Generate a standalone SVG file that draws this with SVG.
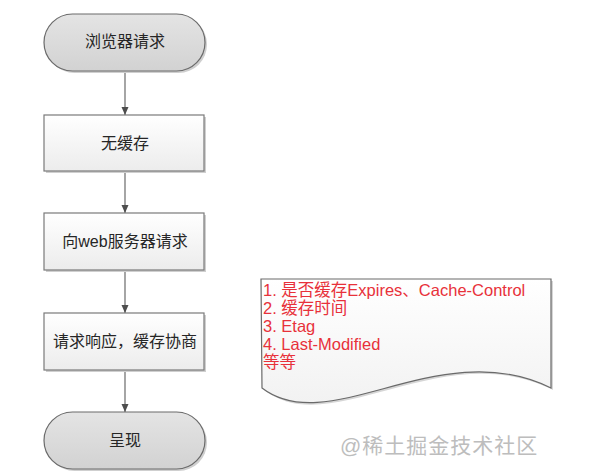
<svg xmlns="http://www.w3.org/2000/svg" width="603" height="476" viewBox="0 0 603 476">
<defs>
<linearGradient id="gTerm" x1="0" y1="0" x2="0" y2="1"><stop offset="0" stop-color="#e4e4e4"/><stop offset="1" stop-color="#d2d2d2"/></linearGradient>
<linearGradient id="gBox" x1="0" y1="0" x2="0" y2="1"><stop offset="0" stop-color="#ffffff"/><stop offset="1" stop-color="#ececec"/></linearGradient>
<linearGradient id="gNote" x1="0" y1="0" x2="0" y2="1"><stop offset="0" stop-color="#ffffff"/><stop offset="1" stop-color="#f2f2f2"/></linearGradient>
<marker id="arr" viewBox="0 0 8 8" refX="8" refY="4" markerWidth="8" markerHeight="8" markerUnits="userSpaceOnUse" orient="auto"><path d="M0,0.5 L8,4 L0,7.5 Z" fill="#4d4d4d"/></marker>
</defs>
<style>
.term{fill:url(#gTerm);stroke:#6a6a6a;stroke-width:1.2}
.box{fill:url(#gBox);stroke:#7a7a7a;stroke-width:1.2}
.shadow{fill:#cfcfcf}
.lbl{font-family:"Liberation Sans","Noto Sans CJK SC",sans-serif;font-size:16px;fill:#262626;text-anchor:middle;dominant-baseline:central}
.conn{stroke:#6a6a6a;stroke-width:1.2;fill:none;marker-end:url(#arr)}
.note{font-family:"Liberation Sans","Noto Sans CJK SC",sans-serif;font-size:16.5px;fill:#e8313a}
</style>
<rect width="603" height="476" fill="#ffffff"/>
<g id="connectors">
<line class="conn" x1="125" y1="71" x2="125" y2="115"/>
<line class="conn" x1="125" y1="171" x2="125" y2="213"/>
<line class="conn" x1="125" y1="270" x2="125" y2="313"/>
<line class="conn" x1="125" y1="370" x2="125" y2="412"/>
</g>
<g id="n1">
<rect class="shadow" x="46" y="16" width="161" height="57" rx="28.5"/>
<rect class="term" x="44" y="14" width="161" height="57" rx="28.5"/>
<text class="lbl" x="125" y="41">浏览器请求</text>
</g>
<g id="n2">
<rect class="shadow" x="46" y="117" width="160" height="56"/>
<rect class="box" x="44" y="115" width="160" height="56"/>
<text class="lbl" x="125" y="143">无缓存</text>
</g>
<g id="n3">
<rect class="shadow" x="46" y="215" width="160" height="57"/>
<rect class="box" x="44" y="213" width="160" height="57"/>
<text class="lbl" x="125" y="241">向web服务器请求</text>
</g>
<g id="n4">
<rect class="shadow" x="46" y="315" width="160" height="57"/>
<rect class="box" x="44" y="313" width="160" height="57"/>
<text class="lbl" x="125" y="341">请求响应，缓存协商</text>
</g>
<g id="n5">
<rect class="shadow" x="46" y="414" width="161" height="57" rx="28.5"/>
<rect class="term" x="44" y="412" width="161" height="57" rx="28.5"/>
<text class="lbl" x="125" y="440">呈现</text>
</g>
<g id="note">
<path d="M263,281 H553 V390 C442,335 332,442 264,390 Z" fill="#d6d6d6"/>
<path d="M261,279 H551 V388 C440,333 330,440 262,388 Z" fill="url(#gNote)" stroke="#6a6a6a" stroke-width="1.2"/>
<text class="note" x="263" y="296">1. 是否缓存Expires、Cache-Control</text>
<text class="note" x="263" y="314">2. 缓存时间</text>
<text class="note" x="263" y="332">3. Etag</text>
<text class="note" x="263" y="350">4. Last-Modified</text>
<text class="note" x="263" y="368">等等</text>
</g>
<text x="340" y="453" font-family="Liberation Sans,'Noto Sans CJK SC',sans-serif" font-size="21" letter-spacing="1" fill="#bdbdbd">@稀土掘金技术社区</text>
</svg>
